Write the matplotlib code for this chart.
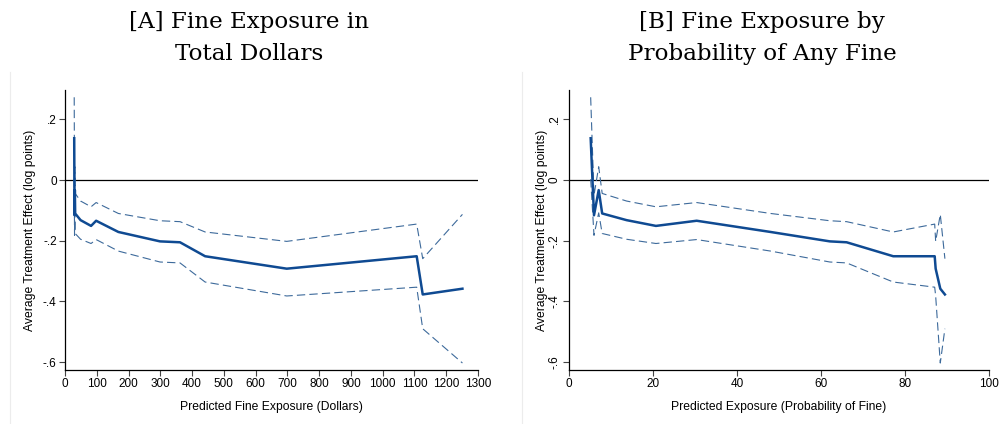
import numpy as np
import matplotlib
matplotlib.use("Agg")
import matplotlib.pyplot as plt
from matplotlib.lines import Line2D

# ---- data (same estimation points, two different x-measures) ----
dollars = [29, 30, 31, 32, 49, 82, 98, 168, 299, 362, 441, 698, 1107, 1126, 1251]
prob = [5.16, 5.95, 7.07, 7.9, 13.7, 20.7, 30.4, 48.0, 62.1, 66.1, 77.2, 87.3, 87.07, 89.5, 88.4]
ate = [0.138, -0.116, -0.033, -0.110, -0.132, -0.151, -0.134, -0.171, -0.202, -0.205,
       -0.251, -0.292, -0.251, -0.377, -0.358]
ci_lo = [0.003, -0.182, -0.108, -0.176, -0.195, -0.209, -0.196, -0.234, -0.270, -0.273,
         -0.336, -0.382, -0.353, -0.490, -0.603]
ci_hi = [0.273, -0.050, 0.044, -0.044, -0.069, -0.088, -0.074, -0.110, -0.134, -0.137,
         -0.171, -0.202, -0.145, -0.259, -0.113]

yticks = [0.2, 0.0, -0.2, -0.4, -0.6]
ytick_labels = [".2", "0", "-.2", "-.4", "-.6"]
xticksA = list(range(0, 1301, 100))
xticksB = [0, 20, 40, 60, 80, 100]

titleA = "[A] Fine Exposure in\nTotal Dollars"
titleB = "[B] Fine Exposure by\nProbability of Any Fine"
xlabelA = "Predicted Fine Exposure (Dollars)"
xlabelB = "Predicted Exposure (Probability of Fine)"
ylabel = "Average Treatment Effect (log points)"

plt.rcParams["font.family"] = ["Liberation Sans", "DejaVu Sans"]
plt.rcParams["lines.scale_dashes"] = False

W, H = 1001, 424
fig = plt.figure(figsize=(W / 100, H / 100), dpi=100)
fig.patch.set_facecolor("white")

MAIN = "#0f4a92"
CI = "#3d6a9b"
FS_TICK = 8.5
FS_LAB = 8.7


def panel(rect, x, xticks, xlim, xlabel, rot_y, ylab_x):
    ax = fig.add_axes(rect)
    x = np.asarray(x)
    order = np.argsort(x, kind="stable")
    xs = x[order]
    ax.axhline(0, color="black", lw=0.9, zorder=1)
    ax.plot(xs, np.asarray(ci_hi)[order], color=CI, lw=0.8, dashes=(6, 3), zorder=2)
    ax.plot(xs, np.asarray(ci_lo)[order], color=CI, lw=0.8, dashes=(6, 3), zorder=2)
    ax.plot(xs, np.asarray(ate)[order], color=MAIN, lw=1.8, zorder=3,
            solid_joinstyle="round")
    ax.set_xlim(*xlim)
    ax.set_ylim(-0.626, 0.297)
    ax.set_xticks(xticks)
    ax.set_xticklabels([str(t) for t in xticks], fontsize=FS_TICK)
    ax.set_yticks(yticks)
    if rot_y:
        ax.set_yticklabels(ytick_labels, fontsize=FS_TICK, rotation=90, va="center")
    else:
        ax.set_yticklabels(ytick_labels, fontsize=FS_TICK)
    for s in ["top", "right"]:
        ax.spines[s].set_visible(False)
    for s in ["left", "bottom"]:
        ax.spines[s].set_linewidth(0.9)
        ax.spines[s].set_color("black")
    ax.tick_params(length=4, width=0.8, color="#444444", pad=2)
    ax.set_xlabel(xlabel, fontsize=FS_LAB)
    ax.xaxis.set_label_coords(0.5, -0.132)
    ax.xaxis.label.set_va("center")
    ax.set_ylabel(ylabel, fontsize=FS_LAB)
    ax.yaxis.set_label_coords(ylab_x, 0.5)
    ax.yaxis.label.set_va("center")
    return ax


axA = panel([65 / W, 54 / H, 413 / W, 280 / H], dollars, xticksA, (0, 1300),
            xlabelA, False, -(65 - 30) / 413)
axB = panel([569 / W, 54 / H, 420 / W, 280 / H], prob, xticksB, (0, 100),
            xlabelB, True, -(569 - 542) / 420)

fig.text(249 / W, 1 - 38 / H, titleA, ha="center", va="center",
         family="DejaVu Serif", fontsize=16.6, linespacing=1.55)
fig.text(762 / W, 1 - 38 / H, titleB, ha="center", va="center",
         family="DejaVu Serif", fontsize=16.6, linespacing=1.55)

# faint panel borders
for xp in [10, 522]:
    fig.add_artist(Line2D([xp / W, xp / W], [0, 0.83], color="#ececec", lw=0.8))

fig.savefig("out.png", dpi=100, facecolor="white")
